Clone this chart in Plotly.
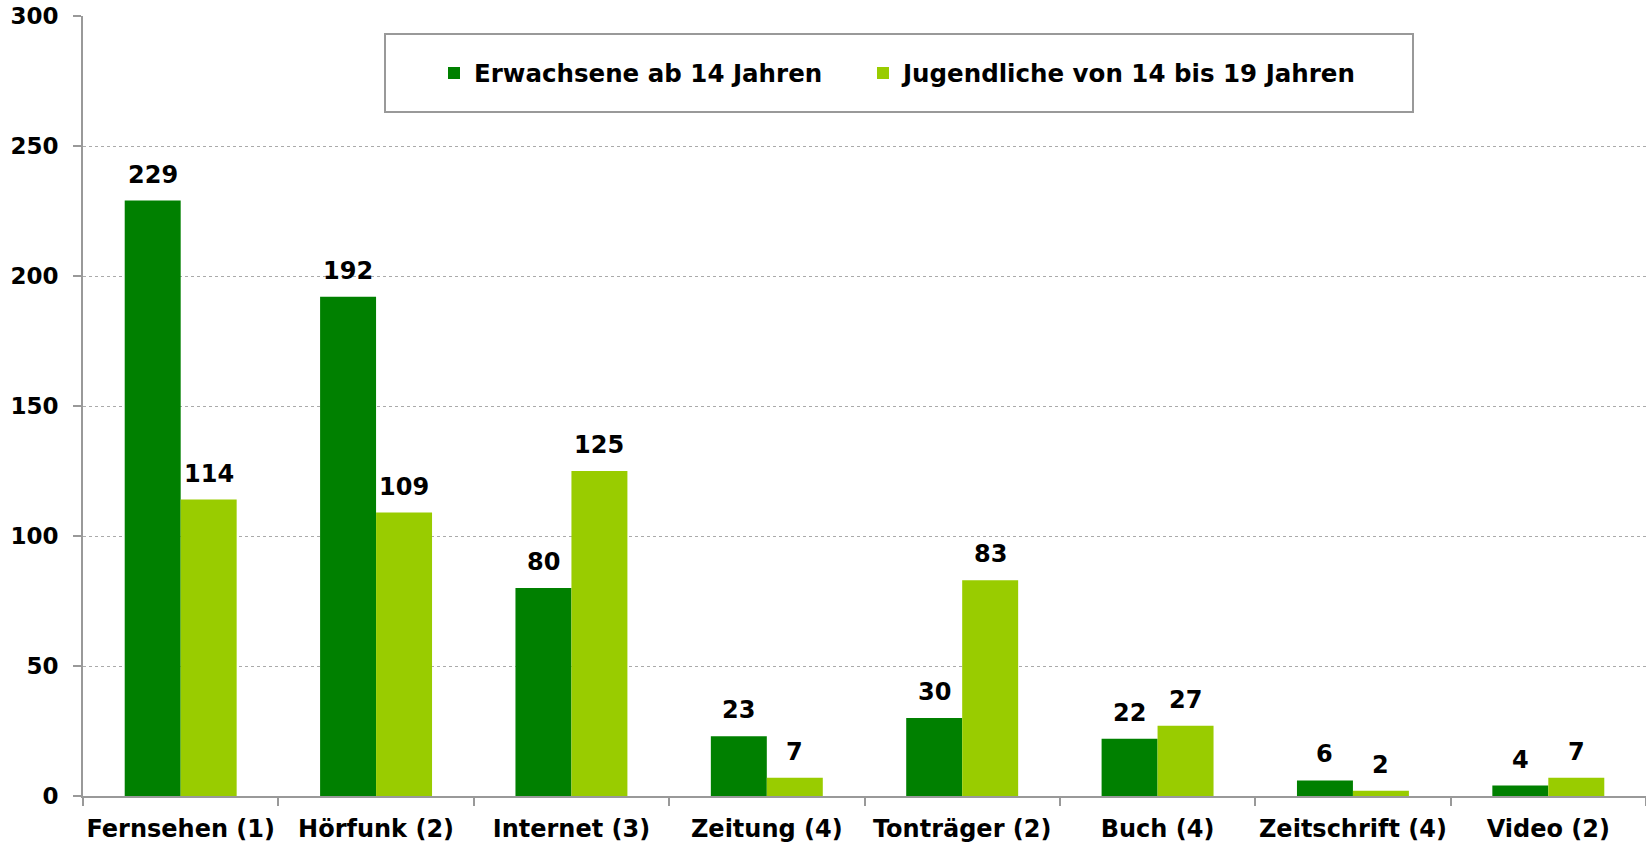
import plotly.graph_objects as go

categories = ["Fernsehen (1)", "Hörfunk (2)", "Internet (3)", "Zeitung (4)",
              "Tonträger (2)", "Buch (4)", "Zeitschrift (4)", "Video (2)"]
series_names = ["Erwachsene ab 14 Jahren", "Jugendliche von 14 bis 19 Jahren"]
erwachsene = [229, 192, 80, 23, 30, 22, 6, 4]
jugendliche = [114, 109, 125, 7, 83, 27, 2, 7]
y_ticks = [0, 50, 100, 150, 200, 250, 300]

colors = ["#008000", "#99CC00"]
FONT = "DejaVu Sans"
W, H = 1646, 844
ML, MR, MT, MB = 83, 0, 16, 48
plot_w = W - ML - MR
plot_h = H - MT - MB

fig = go.Figure()
for name, vals, col, lg in zip(series_names, [erwachsene, jugendliche], colors,
                               ["legend", "legend2"]):
    fig.add_trace(go.Bar(name=f"<b>{name}</b>", x=categories, y=vals, marker_color=col,
                         marker_line_width=0, legend=lg, showlegend=True))

bargap = 0.427
half_bar_px = plot_w / len(categories) * (1 - bargap) / 4
annotations = []
for vals, sign in [(erwachsene, -1), (jugendliche, 1)]:
    for c, v in zip(categories, vals):
        annotations.append(dict(x=c, y=v, xref="x", yref="y", text=f"<b>{v}</b>",
                                showarrow=False, xshift=sign * half_bar_px,
                                yanchor="bottom", yshift=10,
                                font=dict(family=FONT, size=24, color="black")))

# legend box
x0 = (385 - ML) / plot_w
x1 = (1413 - ML) / plot_w
y0 = (H - MB - 112) / plot_h
y1 = (H - MB - 34) / plot_h

legend_common = dict(orientation="h", xanchor="left",
                     y=(H - MB - 73) / plot_h, yanchor="middle",
                     bgcolor="rgba(0,0,0,0)", borderwidth=0, visible=True,
                     font=dict(family=FONT, size=24.5, color="black"))

fig.update_layout(
    width=W, height=H, showlegend=True,
    margin=dict(l=ML, r=MR, t=MT, b=MB, pad=0, autoexpand=False),
    paper_bgcolor="white", plot_bgcolor="white",
    barmode="group", bargap=bargap, bargroupgap=0,
    font=dict(family=FONT, color="black"),
    annotations=annotations,
    shapes=[dict(type="rect", xref="paper", yref="paper", x0=x0, x1=x1, y0=y0, y1=y1,
                 line=dict(color="#999999", width=2), fillcolor="white", layer="below")],
    legend=dict(x=(434 - ML) / plot_w, **legend_common),
    legend2=dict(x=(863 - ML) / plot_w, **legend_common),
    xaxis=dict(showline=True, linecolor="#999999", linewidth=2,
               ticks="outside", tickson="boundaries", ticklen=8, tickcolor="#999999",
               tickwidth=1.5, showgrid=False, ticklabelstandoff=10, tickangle=0,
               tickvals=categories, ticktext=[f"<b>{c}</b>" for c in categories],
               tickfont=dict(family=FONT, size=24, color="black")),
    yaxis=dict(range=[0, 300], tickvals=y_ticks, ticktext=[f"<b>{t}</b>" for t in y_ticks],
               showline=True, linecolor="#999999", linewidth=2,
               ticks="outside", ticklen=8, tickcolor="#999999", tickwidth=1.5,
               ticklabelstandoff=10,
               showgrid=True, gridcolor="#AAAAAA", griddash="dot", gridwidth=1,
               zeroline=False,
               tickfont=dict(family=FONT, size=23, color="black")),
)

fig.write_html("out.html", config={"displayModeBar": False},
               post_script="document.body.style.margin='0px';")
